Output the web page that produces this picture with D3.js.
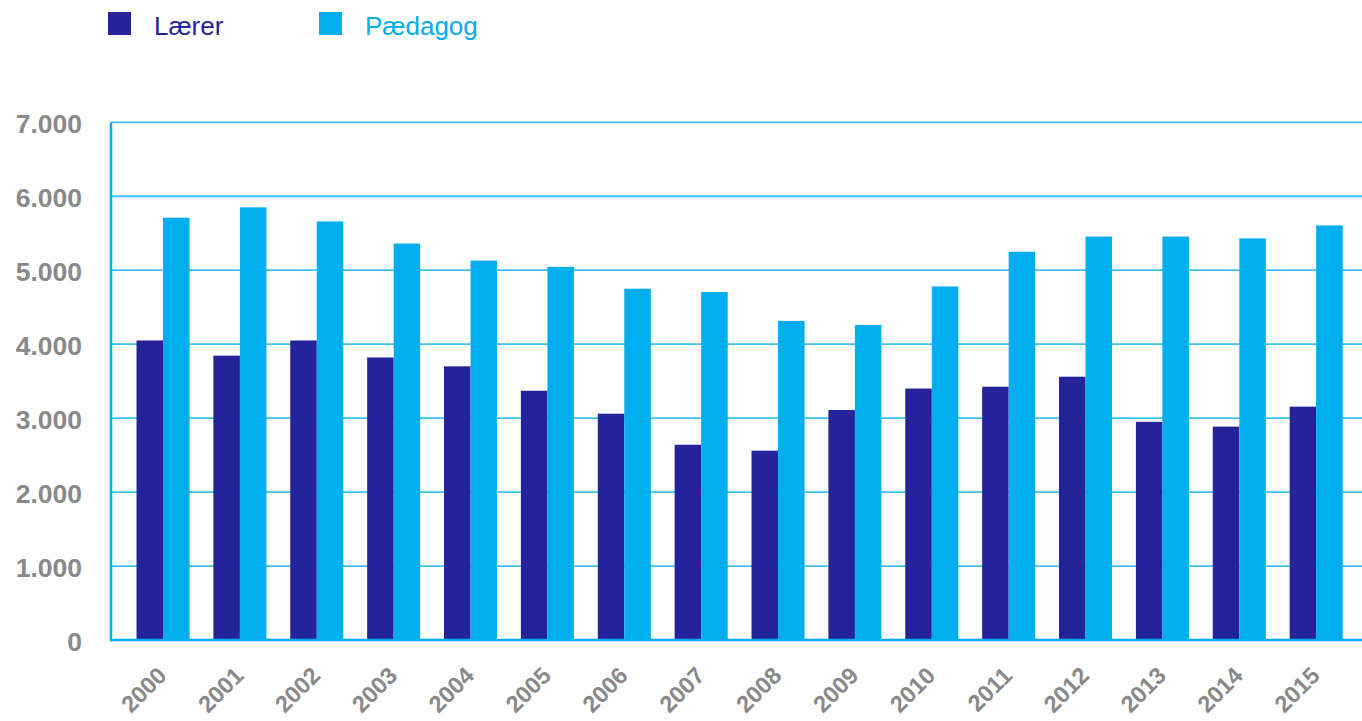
<!DOCTYPE html>
<html>
<head>
<meta charset="utf-8">
<script src="https://cdn.jsdelivr.net/npm/d3@7"></script>
<style>
  body { margin: 0; background: #fff; }
  svg { display: block; font-family: "Liberation Sans", Arial, sans-serif; }
</style>
</head>
<body>
<svg class="chart"></svg>
<script>
// data
var years = ["2000", "2001", "2002", "2003", "2004", "2005", "2006", "2007",
             "2008", "2009", "2010", "2011", "2012", "2013", "2014", "2015"];
var laerer = [4050, 3845, 4050, 3820, 3700, 3370, 3060, 2640,
              2560, 3110, 3400, 3425, 3560, 2950, 2885, 3155];
var paedagog = [5710, 5850, 5660, 5360, 5130, 5045, 4750, 4705,
                4315, 4260, 4780, 5250, 5455, 5455, 5430, 5605];
var seriesNames = ["Lærer", "Pædagog"];
var yTicks = [0, 1000, 2000, 3000, 4000, 5000, 6000, 7000];

var colors = { dark: "#24239a", light: "#00adef", grid: "#3fc3f2", axis: "#00aeef", label: "#898989" };

var width = 1362, height = 721;

var svg = d3.select(".chart")
    .attr("width", width)
    .attr("height", height);

// scales
var x = d3.scaleBand()
    .domain(years)
    .range([124.6, 1354.6])
    .paddingInner(0.31)
    .paddingOuter(0.155);

var xSub = d3.scaleBand()
    .domain(seriesNames)
    .range([0, x.bandwidth()]);

var y = d3.scaleLinear()
    .domain([0, 7000])
    .range([640, 122.3]);

var fmt = function(d) { return d3.format(",")(d).replace(/,/g, "."); };

// gridlines
svg.append("g")
    .attr("class", "grid")
  .selectAll("line")
  .data(yTicks.filter(function(d) { return d > 0; }))
  .enter().append("line")
    .attr("x1", 111)
    .attr("x2", width)
    .attr("y1", function(d) { return y(d); })
    .attr("y2", function(d) { return y(d); })
    .attr("stroke", colors.grid)
    .attr("stroke-width", 1.8);

// y labels
var yAxis = d3.axisLeft(y)
    .tickValues(yTicks)
    .tickFormat(fmt)
    .tickSize(0)
    .tickPadding(29);

svg.append("g")
    .attr("transform", "translate(111,0)")
    .call(yAxis)
    .call(function(g) { g.select(".domain").remove(); })
    .selectAll("text")
      .attr("fill", colors.label)
      .attr("font-size", "26.5px")
      .attr("font-weight", "bold")
      .attr("font-family", "Liberation Sans, Arial, sans-serif")
      .attr("dy", "0.4em");

// bars
var groups = svg.append("g")
  .selectAll("g")
  .data(years)
  .enter().append("g")
    .attr("transform", function(d) { return "translate(" + x(d) + ",0)"; });

groups.append("rect")
    .attr("x", xSub("Lærer"))
    .attr("width", xSub.bandwidth())
    .attr("y", function(d, i) { return y(laerer[i]); })
    .attr("height", function(d, i) { return y(0) - y(laerer[i]); })
    .attr("fill", colors.dark);

groups.append("rect")
    .attr("x", xSub("Pædagog"))
    .attr("width", xSub.bandwidth())
    .attr("y", function(d, i) { return y(paedagog[i]); })
    .attr("height", function(d, i) { return y(0) - y(paedagog[i]); })
    .attr("fill", colors.light);

// axis lines
svg.append("line")
    .attr("x1", 111).attr("x2", width)
    .attr("y1", y(0)).attr("y2", y(0))
    .attr("stroke", colors.axis)
    .attr("stroke-width", 2.5);
svg.append("line")
    .attr("x1", 111).attr("x2", 111)
    .attr("y1", y(7000)).attr("y2", y(0) + 1.2)
    .attr("stroke", colors.axis)
    .attr("stroke-width", 2.5);

// x labels, rotated
svg.append("g")
  .selectAll("text")
  .data(years)
  .enter().append("text")
    .attr("transform", function(d) {
      return "translate(" + (x(d) + x.bandwidth() / 2 + 5) + ",677) rotate(-45)";
    })
    .attr("text-anchor", "end")
    .attr("fill", colors.label)
    .attr("font-size", "23.5px")
    .attr("font-weight", "bold")
    .text(function(d) { return d; });

// legend
var legend = svg.append("g")
  .selectAll("g")
  .data(seriesNames)
  .enter().append("g")
    .attr("transform", function(d, i) { return "translate(" + (108 + i * 211) + ",12)"; });

legend.append("rect")
    .attr("width", 23)
    .attr("height", 23)
    .attr("fill", function(d, i) { return i === 0 ? colors.dark : colors.light; });

legend.append("text")
    .attr("x", 46)
    .attr("y", 23)
    .attr("font-size", "26px")
    .attr("fill", function(d, i) { return i === 0 ? colors.dark : colors.light; })
    .text(function(d) { return d; });
</script>
</body>
</html>
